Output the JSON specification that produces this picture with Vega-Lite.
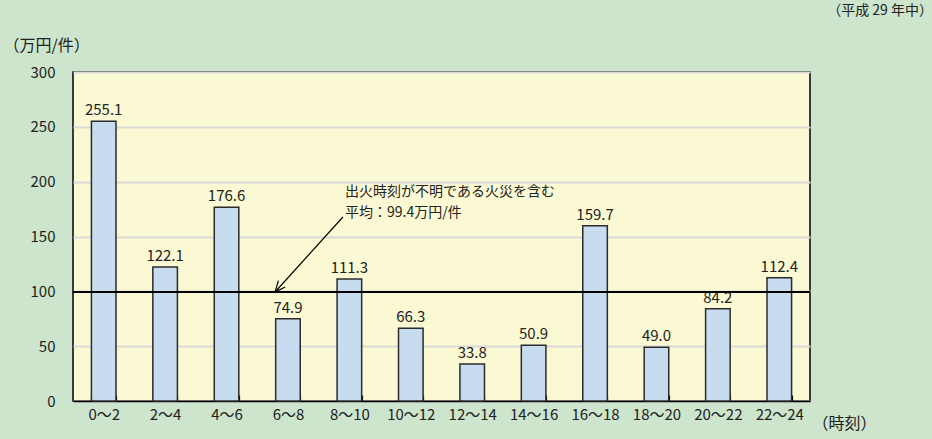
{
  "$schema": "https://vega.github.io/schema/vega-lite/v6.json",
  "width": 737,
  "height": 329,
  "autosize": "none",
  "padding": {"left": 73, "top": 72, "right": 122, "bottom": 38},
  "background": "#cce5cc",
  "config": {
    "font": "Noto Sans CJK JP",
    "view": {"fill": "#fbf9d3", "stroke": "#000000", "strokeWidth": 1.5}
  },
  "title": {
    "text": "（平成 29 年中）",
    "anchor": "end",
    "fontSize": 14,
    "fontWeight": "normal",
    "color": "#222222",
    "dx": 57,
    "offset": 19
  },
  "resolve": {"scale": {"x": "independent"}},
  "layer": [
    {
      "data": {"values": [
        {"slot": "0～2", "value": 255.1},
        {"slot": "2～4", "value": 122.1},
        {"slot": "4～6", "value": 176.6},
        {"slot": "6～8", "value": 74.9},
        {"slot": "8～10", "value": 111.3},
        {"slot": "10～12", "value": 66.3},
        {"slot": "12～14", "value": 33.8},
        {"slot": "14～16", "value": 50.9},
        {"slot": "16～18", "value": 159.7},
        {"slot": "18～20", "value": 49.0},
        {"slot": "20～22", "value": 84.2},
        {"slot": "22～24", "value": 112.4}
      ]},
      "layer": [
        {
          "mark": {"type": "bar", "fill": "#c8dcef", "stroke": "#2b2b2b", "strokeWidth": 1.5},
          "encoding": {
            "x": {
              "field": "slot", "type": "ordinal", "sort": null,
              "scale": {"paddingInner": 0.6, "paddingOuter": 0.3},
              "axis": {
                "title": "（時刻）",
                "titleX": 739, "titleY": 22, "titleAlign": "left", "titleBaseline": "middle",
                "titleFontSize": 16, "titleFontWeight": "normal", "titleColor": "#222222",
                "labelAngle": 0, "labelFontSize": 15, "labelColor": "#222222", "labelPadding": 12,
                "tickBand": "extent", "tickSize": -6, "tickColor": "#000000", "tickWidth": 1.2,
                "domain": true, "domainColor": "#000000", "domainWidth": 1.5
              }
            },
            "y": {
              "field": "value", "type": "quantitative",
              "scale": {"domain": [0, 300]},
              "axis": {
                "values": [0, 50, 100, 150, 200, 250, 300],
                "title": "（万円/件）",
                "titleAngle": 0, "titleAlign": "left", "titleBaseline": "middle",
                "titleX": -70, "titleY": -27,
                "titleFontSize": 16, "titleFontWeight": "normal", "titleColor": "#222222",
                "labelFontSize": 15, "labelColor": "#222222", "labelPadding": 18,
                "ticks": false, "domain": false,
                "grid": true, "gridColor": "#d9d9d9", "gridWidth": 2
              }
            }
          }
        },
        {
          "mark": {"type": "text", "baseline": "bottom", "dy": -3, "fontSize": 15, "color": "#222222"},
          "encoding": {
            "x": {"field": "slot", "type": "ordinal", "sort": null},
            "y": {"field": "value", "type": "quantitative"},
            "text": {"field": "value", "type": "quantitative", "format": ".1f"}
          }
        },
        {
          "mark": {"type": "rule", "color": "#000000", "strokeWidth": 1.5},
          "encoding": {"y": {"datum": 99.4}}
        }
      ]
    },
    {
      "data": {"values": [
        {"part": "shaft", "ord": 1, "hour": 8.79, "val": 167.8},
        {"part": "shaft", "ord": 2, "hour": 6.58, "val": 99.4},
        {"part": "head", "ord": 1, "hour": 6.91, "val": 103.9},
        {"part": "head", "ord": 2, "hour": 6.58, "val": 99.4},
        {"part": "head", "ord": 3, "hour": 6.69, "val": 109.7}
      ]},
      "mark": {"type": "line", "color": "#000000", "strokeWidth": 1.2},
      "encoding": {
        "x": {"field": "hour", "type": "quantitative", "scale": {"domain": [0, 24]}, "axis": null},
        "y": {"field": "val", "type": "quantitative"},
        "detail": {"field": "part"},
        "order": {"field": "ord"}
      }
    },
    {
      "data": {"values": [
        {"hour": 8.86, "val": 190.6, "t": "出火時刻が不明である火災を含む"},
        {"hour": 8.86, "val": 171.4, "t": "平均：99.4万円/件"}
      ]},
      "mark": {"type": "text", "align": "left", "baseline": "middle", "fontSize": 14, "color": "#222222"},
      "encoding": {
        "x": {"field": "hour", "type": "quantitative", "scale": {"domain": [0, 24]}, "axis": null},
        "y": {"field": "val", "type": "quantitative"},
        "text": {"field": "t"}
      }
    }
  ]
}
